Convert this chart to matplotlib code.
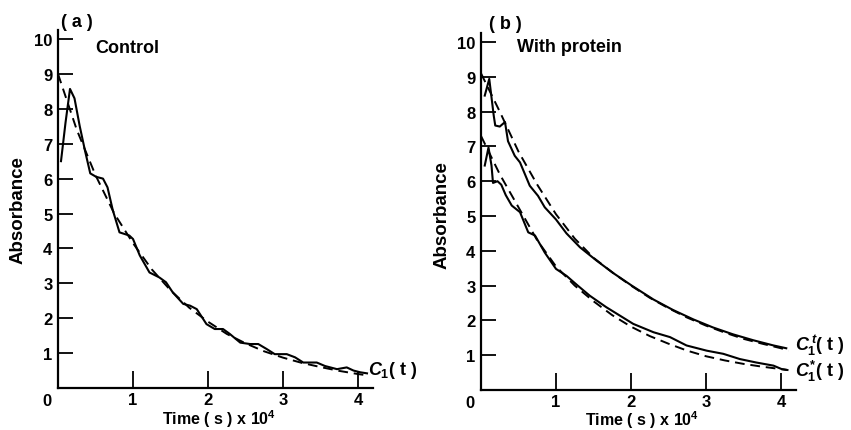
import matplotlib
matplotlib.use("Agg")
import matplotlib.pyplot as plt

# ── data (time in units of 1e4 s) ───────────────────────────────────────────
ctrl_t = [0.04, 0.10, 0.16, 0.22, 0.29, 0.36, 0.43, 0.51, 0.60, 0.66, 0.73, 0.82,
          0.95, 1.00, 1.09, 1.22, 1.35, 1.44, 1.53, 1.67, 1.76, 1.85, 1.98, 2.09,
          2.20, 2.29, 2.43, 2.56, 2.67, 2.78, 2.89, 3.05, 3.16, 3.27, 3.45, 3.56,
          3.72, 3.85, 3.94, 4.03, 4.12]
ctrl_y = [6.50, 7.60, 8.57, 8.30, 7.50, 6.80, 6.15, 6.05, 6.00, 5.75, 5.10, 4.46,
          4.37, 4.27, 3.80, 3.31, 3.17, 3.03, 2.74, 2.41, 2.36, 2.26, 1.83, 1.69,
          1.69, 1.55, 1.30, 1.26, 1.26, 1.12, 0.97, 0.97, 0.88, 0.73, 0.73, 0.63,
          0.54, 0.59, 0.50, 0.45, 0.42]

fit_t = [0.0, 0.25, 0.5, 0.75, 1.0, 1.25, 1.5, 1.75, 2.0, 2.25, 2.5, 2.75,
         3.0, 3.25, 3.5, 3.75, 4.0, 4.1]
ctrl_fit = [9.0, 7.4, 6.1, 5.0, 4.15, 3.4, 2.8, 2.3, 1.9, 1.55, 1.28, 1.05,
            0.87, 0.72, 0.60, 0.49, 0.40, 0.37]

tot_t = [0.05, 0.11, 0.17, 0.19, 0.25, 0.32, 0.36, 0.45, 0.52, 0.65, 0.76, 0.85,
         1.00, 1.14, 1.32, 1.54, 1.77, 2.01, 2.30, 2.56, 2.83, 3.09, 3.36, 3.63,
         3.90, 4.07]
tot_y = [8.46, 8.94, 7.88, 7.60, 7.57, 7.70, 7.15, 6.73, 6.54, 5.87, 5.58, 5.25,
         4.90, 4.50, 4.10, 3.72, 3.35, 3.00, 2.60, 2.30, 2.03, 1.80, 1.60, 1.43,
         1.28, 1.20]
tot_fit = [9.1, 8.0, 6.85, 5.9, 5.05, 4.35, 3.8, 3.38, 3.0, 2.65, 2.35, 2.08,
           1.85, 1.65, 1.47, 1.33, 1.20, 1.13]

star_t = [0.05, 0.10, 0.14, 0.16, 0.22, 0.27, 0.33, 0.41, 0.52, 0.63, 0.72, 0.85,
          1.00, 1.14, 1.29, 1.45, 1.67, 1.85, 2.03, 2.30, 2.52, 2.74, 3.01, 3.23,
          3.45, 3.67, 3.90, 4.01, 4.07]
star_y = [6.45, 6.97, 6.45, 5.95, 6.00, 5.90, 5.60, 5.30, 5.11, 4.53, 4.44, 3.95,
          3.48, 3.28, 3.00, 2.71, 2.38, 2.14, 1.90, 1.66, 1.52, 1.28, 1.13, 1.04,
          0.89, 0.79, 0.70, 0.60, 0.58]
star_fit = [7.3, 6.2, 5.25, 4.3, 3.55, 3.0, 2.55, 2.15, 1.82, 1.55, 1.33, 1.13,
            0.97, 0.85, 0.75, 0.67, 0.60, 0.57]

Y_TICKS = list(range(1, 11))
X_TICKS = [1, 2, 3, 4]

plt.rcParams.update({
    "font.family": "Liberation Sans",
    "font.weight": "bold",
    "mathtext.fontset": "custom",
    "mathtext.rm": "Liberation Sans:bold",
    "mathtext.it": "Liberation Sans:italic:bold",
})

FONT = 12
DASH = (0, (5, 3))

fig = plt.figure(figsize=(8.51, 4.31), dpi=100)
ax_a = fig.add_axes([58 / 851, 42 / 431, 315 / 851, 357.7 / 431])
ax_b = fig.add_axes([481 / 851, 40 / 431, 315 / 851, 356.7 / 431])


def style(ax, bottom_px):
    ax.set_xlim(0, 4.2)
    ax.set_ylim(0, 10.25)
    for s in ("top", "right"):
        ax.spines[s].set_visible(False)
    for s in ("left", "bottom"):
        ax.spines[s].set_linewidth(1.6)
    ax.set_xticks(X_TICKS)
    ax.set_yticks(Y_TICKS)
    ax.set_xticklabels([str(v) for v in X_TICKS], fontsize=FONT, fontweight="bold")
    ax.set_yticklabels([str(v) for v in Y_TICKS], fontsize=FONT, fontweight="bold")
    ax.tick_params(axis="x", direction="in", length=12, width=1.3, pad=3)
    ax.tick_params(axis="y", direction="in", length=11, width=1.3, pad=4)
    ax.text(-0.15, -0.35, "0", ha="center", va="center", fontsize=FONT,
            fontweight="bold", clip_on=False)
    # x label sits just above the bottom edge of the figure
    ax.annotate("Time ( s ) x 10$^4$", xy=(2.15, 0), xycoords=("data", "figure pixels"),
                xytext=(0, bottom_px), textcoords="offset pixels",
                ha="center", va="bottom", fontsize=11.5, fontweight="bold")


# ── (a) control ─────────────────────────────────────────────────────────────
style(ax_a, 1)
ax_a.plot(ctrl_t, ctrl_y, color="black", lw=1.5, clip_on=False)
ax_a.plot(fit_t, ctrl_fit, color="black", lw=1.4, linestyle=DASH, clip_on=False)
ax_a.text(0.25, 10.49, "( a )", ha="center", va="center", fontsize=13)
ax_a.text(0.49, 9.77, "Control", ha="left", va="center", fontsize=13)
ax_a.text(4.13, 0.54, "$C_1$( t )", ha="left", va="center", fontsize=13)
fig.text(18 / 851, 1 - 210 / 431, "Absorbance", rotation=90, ha="center",
         va="center", fontsize=13.5, fontweight="bold")

# ── (b) with protein ────────────────────────────────────────────────────────
style(ax_b, 0)
ax_b.plot(tot_t, tot_y, color="black", lw=1.5, clip_on=False)
ax_b.plot(fit_t, tot_fit, color="black", lw=1.4, linestyle=DASH, clip_on=False)
ax_b.plot(star_t, star_y, color="black", lw=1.5, clip_on=False)
ax_b.plot(fit_t, star_fit, color="black", lw=1.4, linestyle=DASH, clip_on=False)
ax_b.text(0.32, 10.52, "( b )", ha="center", va="center", fontsize=13)
ax_b.text(0.48, 9.86, "With protein", ha="left", va="center", fontsize=13)
ax_b.text(4.19, 1.32, "$C_1^{\\,t}$( t )", ha="left", va="center", fontsize=13)
ax_b.text(4.19, 0.55, "$C_1^{*}$( t )", ha="left", va="center", fontsize=13)
fig.text(442 / 851, 1 - 215 / 431, "Absorbance", rotation=90, ha="center",
         va="center", fontsize=13.5, fontweight="bold")

fig.savefig("out.png", dpi=100)
